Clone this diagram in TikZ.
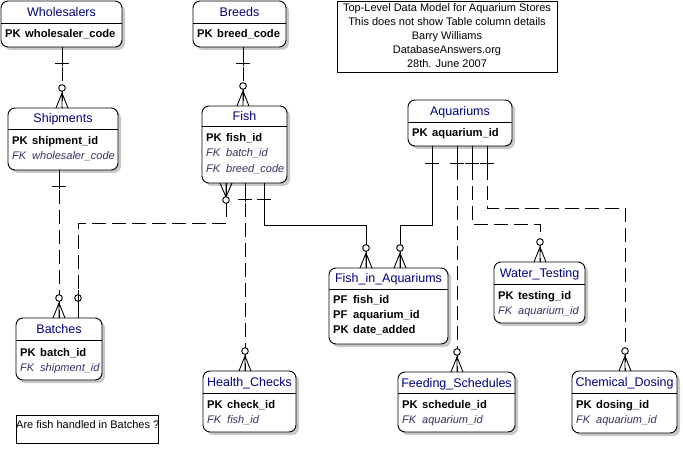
\documentclass[tikz,border=0pt]{standalone}
\usepackage{fontspec}
\setmainfont{Liberation Sans}
\usetikzlibrary{shadows,calc}

\definecolor{erTitle}{RGB}{0,0,128}
\definecolor{erFkText}{RGB}{50,50,100}
\definecolor{erShadow}{RGB}{200,200,200}

\tikzset{
  entbox/.style={draw, line width=0.9pt, fill=white, rounded corners=7pt,
    inner sep=0pt, outer sep=0pt, anchor=north west,
    drop shadow={shadow xshift=3pt, shadow yshift=-3pt, fill=erShadow, opacity=1}},
  enttitle/.style={font=\fontsize{12.5}{14}\selectfont, text=erTitle, inner sep=0pt, anchor=base},
  keytag/.style={font=\fontsize{11.2}{13}\selectfont\bfseries, inner sep=0pt, anchor=base west},
  fktag/.style={font=\fontsize{11}{13}\selectfont\itshape, text=erFkText, inner sep=0pt, anchor=base west},
  plainline/.style={line width=0.9pt},
  idrel/.style={line width=0.9pt},
  nonidrel/.style={line width=0.9pt, dash pattern=on 14pt off 6pt},
  infotext/.style={font=\fontsize{11}{13}\selectfont, inner sep=0pt, anchor=base},
  framebox/.style={draw, line width=0.9pt, inner sep=0pt, outer sep=0pt, anchor=north west},
}

% entity: name, left, top, right, bottom, separator y, title
\newcommand{\erEntity}[7]{%
  \node[entbox, minimum width={(#4-#2)*1pt}, minimum height={(#5-#3)*1pt}] (#1) at (#2,#3) {};
  \draw[plainline] (#1.west |- 0,#6) -- (#1.east |- 0,#6);
  \node[enttitle] (#1title) at ({(#2+#4)/2},{(#3+#6)/2+4.5}) {#7};
}
% key row: entity, row id, tag, column, row centre y
\newcommand{\erKeyRow}[5]{%
  \node[keytag] (#1#2tag) at ($(#1.west |- 0,#5)+(4,4)$) {#3};
  \node[keytag] (#1#2col) at ($(#1.west |- 0,#5)+(24,4)$) {#4};
}
\newcommand{\erFkRow}[5]{%
  \node[fktag] (#1#2tag) at ($(#1.west |- 0,#5)+(4,4)$) {#3};
  \node[fktag] (#1#2col) at ($(#1.west |- 0,#5)+(24,4)$) {#4};
}
% "one" bar across a connector at (x,y)
\newcommand{\oneBar}[2]{\draw[idrel] (#1-7,#2) -- (#1+7,#2);}
% ring and crow's foot ending on the top edge of a child at (x,y)
\newcommand{\manyDown}[2]{%
  \draw[idrel] (#1-6,#2) -- (#1,#2-15) -- (#1+6,#2) (#1,#2-22) -- (#1,#2);
  \draw[idrel, fill=white] (#1,#2-20) circle (3.3pt);
}
% ring and crow's foot ending on the bottom edge of a child at (x,y)
\newcommand{\manyUp}[2]{%
  \draw[idrel] (#1-6,#2) -- (#1,#2+14) -- (#1+6,#2) (#1,#2) -- (#1,#2+20);
  \draw[idrel, fill=white] (#1,#2+17) circle (3.3pt);
}

\begin{document}
\begin{tikzpicture}[x=1pt, y=-1pt]
\useasboundingbox (0,0) rectangle (683,449);

% ---------- entities ----------
\erEntity{wholesalers}{1}{1}{122}{47}{23}{Wholesalers}
\erKeyRow{wholesalers}{a}{PK}{wholesaler\_code}{34}

\erEntity{shipments}{8}{108}{118}{170}{129}{Shipments}
\erKeyRow{shipments}{a}{PK}{shipment\_id}{141}
\erFkRow{shipments}{b}{FK}{wholesaler\_code}{156}

\erEntity{breeds}{193}{1}{286}{47}{23}{Breeds}
\erKeyRow{breeds}{a}{PK}{breed\_code}{34}

\erEntity{fish}{202}{106}{287}{183}{126}{Fish}
\erKeyRow{fish}{a}{PK}{fish\_id}{138}
\erFkRow{fish}{b}{FK}{batch\_id}{153}
\erFkRow{fish}{c}{FK}{breed\_code}{168.5}

\erEntity{aquariums}{408}{100}{512}{146}{122}{Aquariums}
\erKeyRow{aquariums}{a}{PK}{aquarium\_id}{133}

\erEntity{fishinaq}{329}{268}{448}{344}{289}{Fish\_in\_Aquariums}
\erKeyRow{fishinaq}{a}{PF}{fish\_id}{300}
\erKeyRow{fishinaq}{b}{PF}{aquarium\_id}{315}
\erKeyRow{fishinaq}{c}{PK}{date\_added}{330}

\erEntity{watertesting}{494}{262}{585}{323}{284}{Water\_Testing}
\erKeyRow{watertesting}{a}{PK}{testing\_id}{295}
\erFkRow{watertesting}{b}{FK}{aquarium\_id}{310}

\erEntity{batches}{16}{318}{102}{380}{340}{Batches}
\erKeyRow{batches}{a}{PK}{batch\_id}{352}
\erFkRow{batches}{b}{FK}{shipment\_id}{367}

\erEntity{healthchecks}{203}{371}{296}{432}{393}{Health\_Checks}
\erKeyRow{healthchecks}{a}{PK}{check\_id}{404}
\erFkRow{healthchecks}{b}{FK}{fish\_id}{419}

\erEntity{feeding}{398}{372}{515}{432}{393}{Feeding\_Schedules}
\erKeyRow{feeding}{a}{PK}{schedule\_id}{404}
\erFkRow{feeding}{b}{FK}{aquarium\_id}{419}

\erEntity{dosing}{572}{371}{677}{433}{393}{Chemical\_Dosing}
\erKeyRow{dosing}{a}{PK}{dosing\_id}{404}
\erFkRow{dosing}{b}{FK}{aquarium\_id}{419}

% ---------- notes ----------
\node[framebox, minimum width=220pt, minimum height=71pt] (infobox) at (337,1) {};
\node[infotext] (info1) at (447,11.5) {Top-Level Data Model for Aquarium Stores};
\node[infotext] (info2) at (447,25.5) {This does not show Table column details};
\node[infotext] (info3) at (447,39.5) {Barry Williams};
\node[infotext] (info4) at (447,53.5) {DatabaseAnswers.org};
\node[infotext] (info5) at (447,67.5) {28th. June 2007};

\node[framebox, minimum width=142pt, minimum height=28pt] (notebox) at (16,415) {};
\node[infotext, anchor=base west] (notetext) at ($(notebox.north west)+(0,13)$) {Are fish handled in Batches ?};

% ---------- relationships ----------
% Wholesalers -> Shipments
\draw[nonidrel] (wholesalers.south -| 62,0) -- (shipments.north -| 62,0);
\draw[idrel] (wholesalers.south -| 62,0) -- (62,66);
\oneBar{62}{63}
\manyDown{62}{108}

% Breeds -> Fish
\draw[nonidrel] (breeds.south -| 243,0) -- (fish.north -| 243,0);
\draw[idrel] (breeds.south -| 243,0) -- (243,66);
\oneBar{243}{63}
\manyDown{243}{106}

% Shipments -> Batches
\draw[nonidrel] (shipments.south -| 59,0) -- (batches.north -| 59,0);
\draw[idrel] (shipments.south -| 59,0) -- (59,189);
\oneBar{59}{186}
\manyDown{59}{318}

% Batches -> Fish
\draw[nonidrel] (fish.south -| 226,0) -- (226,223) -- (78,223) -- (batches.north -| 78,0);
\manyUp{226}{183}
\draw[idrel, fill=white] (78,298) circle (3.3pt);
\draw[idrel] (78,290) -- (batches.north -| 78,0);

% Fish -> Health_Checks
\draw[nonidrel] (fish.south -| 245,0) -- (healthchecks.north -| 245,0);
\draw[idrel] (fish.south -| 245,0) -- (245,202);
\oneBar{245}{199}
\manyDown{245}{371}

% Fish -> Fish_in_Aquariums
\draw[idrel] (fish.south -| 264,0) -- (264,225) -- (366,225) -- (fishinaq.north -| 366,0);
\oneBar{264}{199}
\manyDown{366}{268}

% Aquariums -> Fish_in_Aquariums
\draw[idrel] (aquariums.south -| 432,0) -- (432,225) -- (400,225) -- (fishinaq.north -| 400,0);
\oneBar{432}{163}
\manyDown{400}{268}

% Aquariums -> Feeding_Schedules
\draw[nonidrel] (aquariums.south -| 457,0) -- (feeding.north -| 457,0);
\draw[idrel] (aquariums.south -| 457,0) -- (457,166);
\oneBar{457}{163}
\manyDown{457}{372}

% Aquariums -> Water_Testing
\draw[nonidrel] (aquariums.south -| 472,0) -- (472,224) -- (540,224) -- (watertesting.north -| 540,0);
\draw[idrel] (aquariums.south -| 472,0) -- (472,166);
\oneBar{472}{163}
\manyDown{540}{262}

% Aquariums -> Chemical_Dosing
\draw[nonidrel] (aquariums.south -| 487,0) -- (487,208) -- (625,208) -- (dosing.north -| 625,0);
\draw[idrel] (aquariums.south -| 487,0) -- (487,166);
\oneBar{487}{163}
\manyDown{625}{371}
\end{tikzpicture}
\end{document}
